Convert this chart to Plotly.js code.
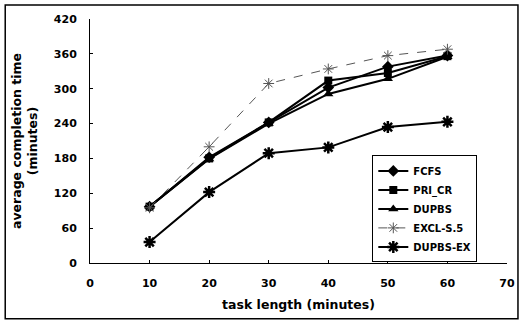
<!DOCTYPE html>
<html>
<head>
<meta charset="utf-8">
<script src="https://cdn.plot.ly/plotly-3.0.1.min.js"></script>
<style>html,body{margin:0;padding:0;background:#fff;}#chart{width:522px;height:322px;}</style>
</head>
<body>
<div id="chart"></div>
<script>
var taskLength = [10, 20, 30, 40, 50, 60];
var fcfs     = [97, 182, 242, 302, 338, 357];
var priCr    = [97, 180, 242, 314, 327, 356];
var dupbs    = [97, 179, 240, 291, 317, 355];
var exclS5   = [95, 200, 309, 334, 357, 368];
var dupbsEx  = [36, 122, 189, 199, 234, 243];
var xTicks = [0, 10, 20, 30, 40, 50, 60, 70];
var yTicks = [0, 60, 120, 180, 240, 300, 360, 420];

var F = 'DejaVu Sans, Verdana, sans-serif';
function tr(name, y, sym, size, lw, dash, col, mlw) {
  return {
    x: taskLength, y: y, name: name, type: 'scatter', mode: 'lines+markers',
    line: {color: col, width: lw, dash: dash},
    marker: {symbol: sym, size: size, color: col, line: {color: col, width: mlw}}
  };
}
var data = [
  tr('FCFS', fcfs, 'diamond', 9, 2, 'solid', '#000', 0),
  tr('PRI_CR', priCr, 'square', 8, 2, 'solid', '#000', 0),
  tr('DUPBS', dupbs, 'triangle-up', 9, 2, 'solid', '#000', 0),
  tr('EXCL-S.5', exclS5, 'asterisk-open', 9, 1, 'dash', '#555', 1),
  tr('DUPBS-EX', dupbsEx, 'asterisk-open', 10, 2, 'solid', '#000', 2.5)
];
var layout = {
  width: 522, height: 322,
  margin: {l: 90, r: 15, t: 19, b: 59},
  paper_bgcolor: '#fff', plot_bgcolor: '#fff',
  showlegend: true,
  font: {family: F, color: '#000'},
  xaxis: {
    range: [0, 70], tickvals: xTicks, ticktext: xTicks.map(String),
    showgrid: false, zeroline: false, showline: true, linecolor: '#000', linewidth: 1,
    ticks: 'inside', ticklen: 3, tickcolor: '#000',
    tickfont: {family: F, size: 11, weight: 'bold', color: '#000'},
    ticklabelstandoff: 10,
    title: {text: 'task length (minutes)', font: {family: F, size: 12.5, weight: 'bold', color: '#000'}, standoff: 11}
  },
  yaxis: {
    range: [0, 420], tickvals: yTicks, ticktext: yTicks.map(String),
    showgrid: false, zeroline: false, showline: true, linecolor: '#000', linewidth: 1,
    ticks: 'inside', ticklen: 3, tickcolor: '#000',
    tickfont: {family: F, size: 11, weight: 'bold', color: '#000'},
    ticklabelstandoff: 10,
    title: {text: 'average completion time<br>(minutes)', font: {family: F, size: 12.5, weight: 'bold', color: '#000'}, standoff: 13}
  },
  legend: {
    x: 0.677, y: 0.441, xanchor: 'left', yanchor: 'top',
    bgcolor: '#fff', bordercolor: '#000', borderwidth: 1,
    font: {family: F, size: 10, weight: 'bold', color: '#000'},
    itemwidth: 30, tracegroupgap: 0
  },
  shapes: [{
    type: 'rect', xref: 'paper', yref: 'paper',
    x0: -0.2033, x1: 1.0263, y0: -0.2286, y1: 1.0571,
    line: {color: '#000', width: 1.5}, fillcolor: 'rgba(0,0,0,0)', layer: 'below'
  }]
};
Plotly.newPlot('chart', data, layout, {staticPlot: true, displayModeBar: false});
</script>
</body>
</html>
